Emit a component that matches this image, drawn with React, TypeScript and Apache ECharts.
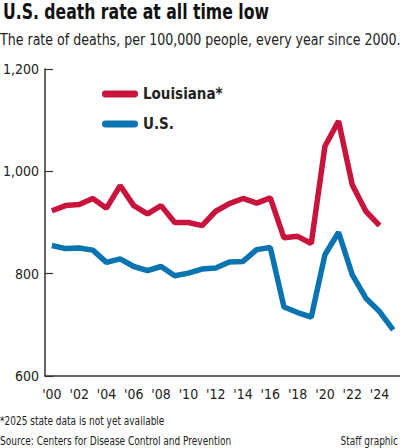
import React, { useEffect, useRef } from "react";
import * as echarts from "echarts";

const years = ["2000","2001","2002","2003","2004","2005","2006","2007","2008","2009","2010","2011","2012","2013","2014","2015","2016","2017","2018","2019","2020","2021","2022","2023","2024","2025"];
const louisiana = [923, 933, 935, 947, 928, 972, 933, 917, 933, 900, 900, 894, 922, 937, 947, 938, 948, 870, 873, 859, 1049, 1098, 974, 922, 894, null];
const us = [855, 849, 850, 846, 822, 829, 814, 806, 814, 796, 801, 809, 811, 823, 824, 847, 851, 735, 724, 715, 837, 881, 798, 752, 726, 690];
const yMin = 600;
const yMax = 1200;
const yStep = 200;

const FONT = "'Liberation Sans Narrow', 'DejaVu Sans Condensed', 'Roboto Condensed', Roboto, sans-serif";
const RED = "#C8143C";
const BLUE = "#0A74B0";
const INK = "#222";

export default function App() {
  const ref = useRef<HTMLDivElement>(null);
  useEffect(() => {
    if (!ref.current) return;
    const chart = echarts.init(ref.current, null, { renderer: "svg" });
    const capsule = "path://M3.5,0 H33.5 A3.5,3.5 0 0 1 33.5,7 H3.5 A3.5,3.5 0 0 1 3.5,0 Z";
    chart.setOption({
      animation: false,
      textStyle: { fontFamily: FONT },
      grid: { left: 37, top: 69, width: 363, height: 307, containLabel: false },
      legend: {
        orient: "vertical",
        left: 97,
        top: 81,
        itemWidth: 36,
        itemHeight: 7,
        itemGap: 14,
        icon: capsule,
        textStyle: { fontFamily: FONT, fontSize: 15, fontWeight: "bold", color: INK, lineHeight: 16 },
        data: [
          { name: "Louisiana*", itemStyle: { color: RED } },
          { name: "U.S.", itemStyle: { color: BLUE } },
        ],
      },
      xAxis: {
        type: "category",
        data: years,
        boundaryGap: true,
        axisLine: { lineStyle: { color: "#333", width: 1.5 } },
        axisTick: { inside: true, length: 6, interval: 0, lineStyle: { color: "#333", width: 1 } },
        axisLabel: {
          interval: 1,
          margin: 11,
          fontFamily: FONT,
          fontSize: 14,
          color: INK,
          formatter: (v: string) => "'" + v.slice(2),
        },
      },
      yAxis: {
        type: "value",
        min: yMin,
        max: yMax,
        interval: yStep,
        splitLine: { show: false },
        axisLine: { show: true, lineStyle: { color: "#333", width: 1.5 } },
        axisTick: { show: true, inside: true, length: 8, lineStyle: { color: "#333", width: 1.2 } },
        axisLabel: {
          margin: 6,
          fontFamily: FONT,
          fontSize: 14,
          color: INK,
          formatter: (v: number) => v.toLocaleString("en-US"),
        },
      },
      series: [
        {
          name: "Louisiana*",
          type: "line",
          data: louisiana,
          showSymbol: false,
          symbol: "none",
          lineStyle: { color: RED, width: 5.5 },
          itemStyle: { color: RED },
        },
        {
          name: "U.S.",
          type: "line",
          data: us,
          showSymbol: false,
          symbol: "none",
          lineStyle: { color: BLUE, width: 5.5 },
          itemStyle: { color: BLUE },
        },
      ],
      graphic: [
        { type: "text", x: 3, y: 1, scaleX: 0.83, style: { text: "U.S. death rate at all time low", fontFamily: FONT, fontSize: 21, fontWeight: "bold", fill: "#111", verticalAlign: "top" } },
        { type: "text", x: 0, y: 31, scaleX: 0.905, style: { text: "The rate of deaths, per 100,000 people, every year since 2000.", fontFamily: FONT, fontSize: 15.5, fill: INK, verticalAlign: "top" } },
        { type: "text", x: 0, y: 415, scaleX: 0.87, style: { text: "*2025 state data is not yet available", fontFamily: FONT, fontSize: 11.5, fill: INK, verticalAlign: "top" } },
        { type: "text", x: 0, y: 435, scaleX: 0.87, style: { text: "Source: Centers for Disease Control and Prevention", fontFamily: FONT, fontSize: 11.5, fill: INK, verticalAlign: "top" } },
        { type: "text", x: 398, y: 435, scaleX: 0.87, style: { text: "Staff graphic", fontFamily: FONT, fontSize: 11.5, fill: INK, align: "right", verticalAlign: "top" } },
      ],
    });
    return () => chart.dispose();
  }, []);
  return <div ref={ref} style={{ position: "fixed", left: 0, top: 0, width: 400, height: 448, background: "#fff" }} />;
}
